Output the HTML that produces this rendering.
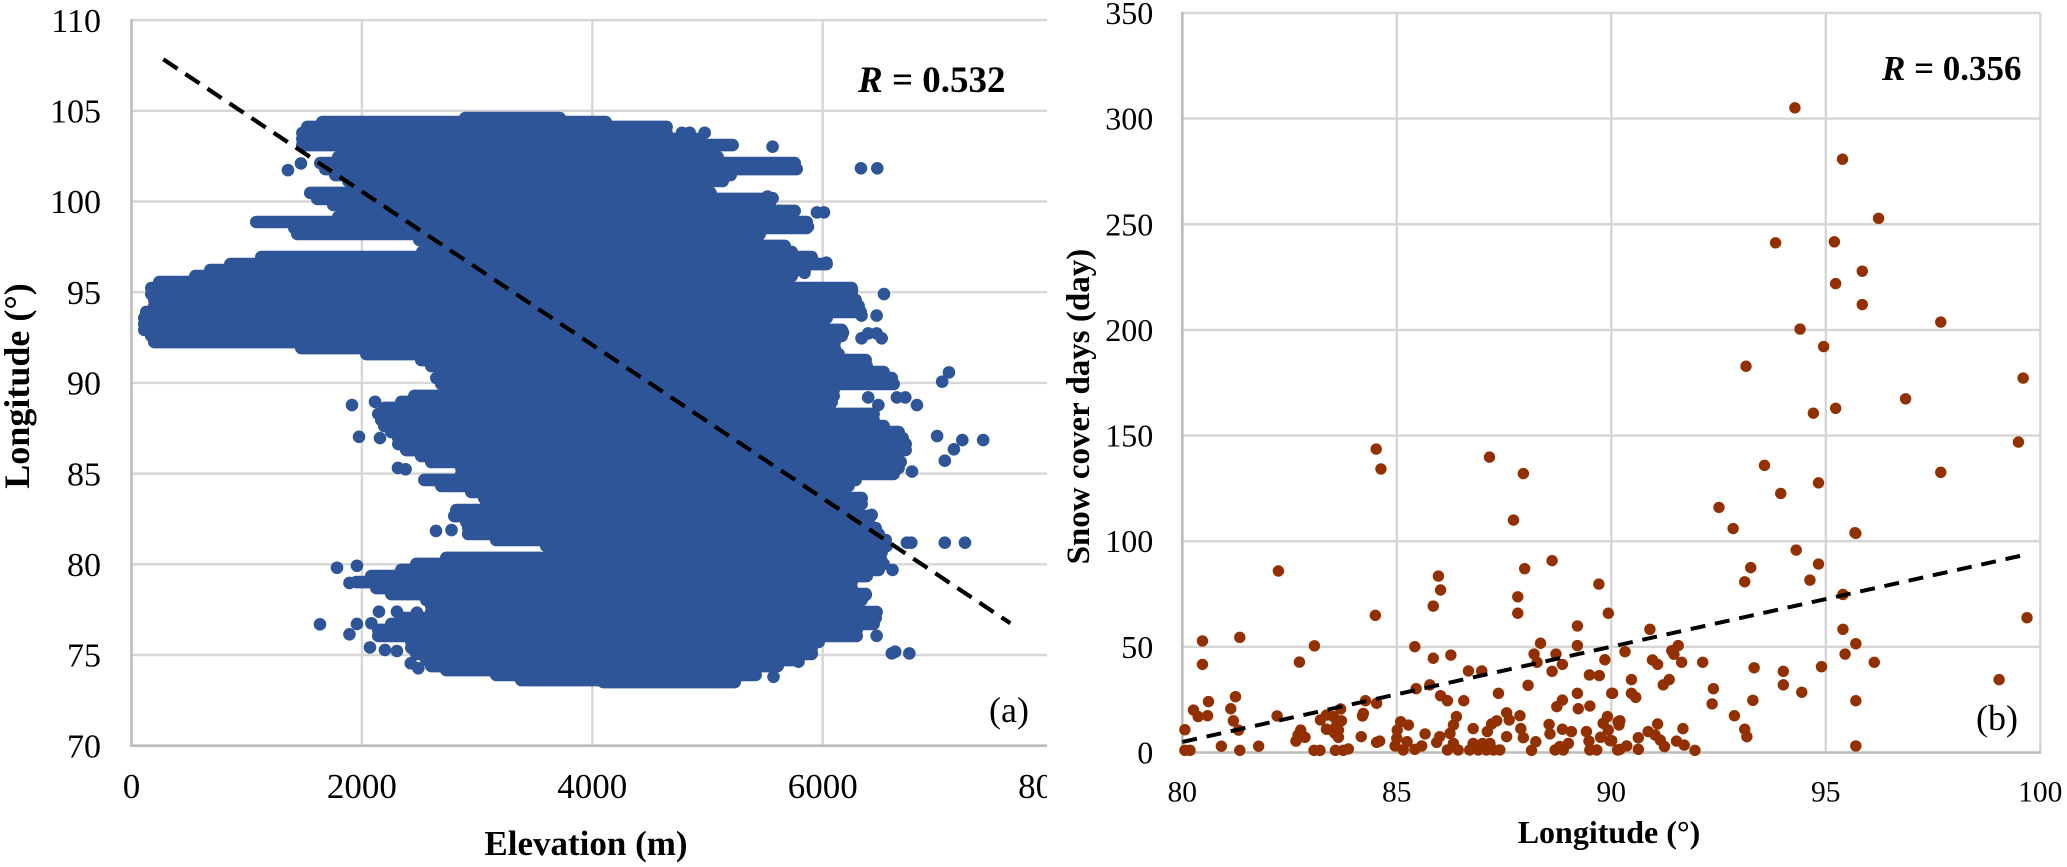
<!DOCTYPE html>
<html>
<head>
<meta charset="utf-8">
<title>Elevation and snow cover scatter charts</title>
<style>
html,body{margin:0;padding:0;background:#fff;}
svg{display:block;font-family:"Liberation Serif",serif;}
</style>
</head>
<body>
<svg id="figure" width="2067" height="867" viewBox="0 0 2067 867" xmlns="http://www.w3.org/2000/svg">
  <rect width="2067" height="867" fill="#ffffff"/>
  <defs><clipPath id="clipA"><rect x="0" y="0" width="1047" height="867"/></clipPath></defs>
  <g id="chartA" clip-path="url(#clipA)"></g>
  <g id="chartB"></g>
  <text x="586" y="855" text-anchor="middle" font-size="35" font-weight="bold">Elevation (m)</text>
  <text transform="translate(29,386) rotate(-90)" text-anchor="middle" font-size="36" font-weight="bold">Longitude (°)</text>
  <text x="858" y="92" font-size="37" font-weight="bold"><tspan font-style="italic">R</tspan> = 0.532</text>
  <text x="989" y="722" font-size="36">(a)</text>
  <text x="1609" y="843" text-anchor="middle" font-size="32" font-weight="bold">Longitude (°)</text>
  <text transform="translate(1089,406.6) rotate(-90)" text-anchor="middle" font-size="33" font-weight="bold">Snow cover days (day)</text>
  <text x="1882" y="80" font-size="35" font-weight="bold"><tspan font-style="italic">R</tspan> = 0.356</text>
  <text x="1976" y="730" font-size="36">(b)</text>
</svg>
<script>
// Panel (a): axis ticks
const aXTicks = [0, 2000, 4000, 6000, 8000];
const aYTicks = [70, 75, 80, 85, 90, 95, 100, 105, 110];

// Panel (a): dense mass of overlapping points, read as one run per longitude
const bandLon = [104.60,104.38,104.11,103.78,103.45,103.11,102.78,102.45,102.12,101.79,101.46,101.13,100.80,100.47,100.14,99.81,99.48,99.15,98.87,98.54,98.21,97.88,97.55,97.22,96.94,96.55,96.22,95.89,95.56,95.23,94.90,94.57,94.24,93.91,93.58,93.25,92.92,92.59,92.25,91.92,91.59,91.26,90.93,90.60,90.27,89.94,89.61,89.28,88.95,88.62,88.29,87.95,87.62,87.29,86.96,86.63,86.30,85.97,85.64,85.31,84.98,84.65,84.32,83.99,83.65,83.32,82.99,82.66,82.33,82.00,81.67,81.34,81.01,80.68,80.35,80.02,79.69,79.35,79.02,78.69,78.36,78.03,77.70,77.37,77.04,76.71,76.38,76.05,75.72,75.39,75.06,74.72,74.39,74.17,73.90,73.62,73.51];
const bandMin = [2897,1656,1526,1483,1483,1483,1925,1795,1639,1682,1769,1882,2012,1552,1613,1752,2055,1795,1083,1413,1439,2498,2567,2524,1127,858,684,554,241,172,172,198,198,128,111,111,111,172,198,1474,2038,2515,2602,2689,2646,2689,2732,2455,2342,2194,2142,2168,2194,2255,2316,2316,2385,2515,2602,2863,2863,2542,2689,2949,3062,3080,2819,2802,2906,2923,2923,3166,3600,3644,2732,2472,2342,2081,1951,2125,2255,2559,2602,2602,2342,2255,2142,2142,2429,2429,2472,2559,2602,2732,3166,3383,4095];
const bandMax = [3717,4116,4645,4645,4923,5218,5053,5088,5757,5774,5201,5132,4915,5027,5557,5540,5757,5609,5861,5861,5453,5435,5670,5731,5904,6034,5843,5731,5696,6251,6251,6286,6312,6330,6034,5991,6165,6165,6104,6104,6138,6373,6382,6529,6599,6616,6095,6095,6078,6060,6442,6442,6529,6659,6694,6720,6720,6512,6677,6659,6616,6286,6225,6182,6338,6338,6286,6416,6399,6460,6486,6547,6555,6512,6503,6529,6486,6382,6251,6251,6373,6338,6225,6468,6460,6442,6295,6295,5965,5904,5904,5783,5609,5418,5418,5236,5236];

// Panel (a): separately visible points
const outlierElev = [1358,1471,1494,1914,2114,1975,2157,2379,2313,2643,2778,1784,1957,1892,2148,2304,2478,1636,1957,2082,1892,2070,2200,2304,2424,2490,4778,4845,4976,5565,6332,6474,5521,5565,5950,6011,5755,5811,5872,6032,5842,6254,6532,6468,6337,6337,6395,6468,6512,6176,7096,7037,6395,6483,6644,6717,6818,6993,7212,7393,7139,7060,6775,6672,6425,6731,6769,7060,7235,6606,6373,6468,6629,6600,6752,5905,5790,5573];
const outlierLon = [101.73,102.10,103.30,88.78,88.96,87.03,86.96,85.24,85.31,81.84,81.89,79.81,79.92,78.97,77.39,77.39,77.33,76.69,76.71,76.75,76.14,75.42,75.28,75.22,74.54,74.27,103.79,103.79,103.79,103.02,101.83,101.83,100.27,100.18,99.40,99.40,98.61,98.61,98.61,96.63,96.07,95.12,94.90,93.71,93.71,92.46,92.73,92.73,92.46,92.77,90.58,90.07,89.20,88.78,89.20,89.20,88.78,87.07,86.85,86.85,86.34,85.71,85.11,85.66,82.72,81.19,81.19,81.19,81.19,79.69,78.31,76.06,75.18,75.09,75.09,75.09,74.63,73.80];

// Panel (a): trend line endpoints
const aTrendElev = [276, 7629];
const aTrendLon = [107.84, 76.75];

// Panel (b): axis ticks
const bXTicks = [80, 85, 90, 95, 100];
const bYTicks = [0, 50, 100, 150, 200, 250, 300, 350];

// Panel (b): stations
const snowLon = [82.24,84.50,80.47,81.34,83.08,80.47,82.73,81.24,80.61,80.26,80.37,80.59,81.13,81.19,81.31,80.06,82.21,80.91,81.78,81.34,80.06,80.18,82.65,82.76,82.70,82.86,83.07,83.21,83.57,83.75,83.87,84.17,84.53,84.60,84.27,84.53,84.22,84.20,83.69,83.36,83.22,83.52,83.71,83.60,83.36,83.48,83.64,83.56,83.64,
85.97,86.02,85.85,85.42,85.85,86.26,86.67,86.98,85.45,85.77,86.02,86.18,86.56,87.37,87.98,88.62,87.82,87.82,89.71,89.93,89.21,89.21,88.35,88.20,88.71,88.27,88.86,88.62,89.85,89.49,89.72,88.06,89.21,90.01,88.86,88.73,89.23,89.50,87.56,87.62,87.87,86.39,86.32,86.24,87.33,87.21,86.78,87.11,87.56,87.89,87.95,88.55,88.57,88.24,88.86,89.07,89.42,89.00,88.80,89.48,89.91,89.81,89.75,89.97,90.16,89.93,88.69,88.88,88.14,89.50,89.66,90.15,85.09,85.27,85.01,85.00,85.66,85.24,85.58,85.42,85.15,84.96,86.00,85.93,86.18,86.43,86.32,86.70,86.90,87.09,87.25,87.40,86.78,87.00,87.17,
94.31,93.25,93.11,94.83,94.63,92.84,90.90,91.56,91.41,91.46,90.32,90.96,91.08,91.64,92.13,93.33,94.01,94.90,90.47,91.35,91.21,94.01,92.38,94.44,90.03,90.47,90.57,92.35,93.30,92.87,90.20,90.18,91.08,91.67,93.11,93.16,90.86,91.02,91.14,91.24,90.63,90.36,90.63,90.20,90.01,91.52,91.70,91.95,
95.40,95.40,95.70,95.45,96.13,99.04,95.70,95.70,99.69,95.70,
94.28,95.39,96.23,93.83,95.20,95.85,95.23,95.85,97.68,94.40,94.95,93.14,99.60,96.86,95.23,94.71,99.49,84.52,84.63,87.16,87.95,93.57,94.83,93.95,97.68,87.72,92.51,95.68];
const snowDays = [85.9,64.9,52.8,54.5,50.5,41.7,42.8,26.4,24.1,20.1,17.0,17.4,20.7,15.0,10.6,10.8,17.3,3.0,3.0,1.0,1.0,1.0,5.4,10.6,8.3,7.2,1.0,1.0,1.0,1.0,1.7,7.5,4.8,5.4,24.5,23.3,18.5,17.3,20.6,17.7,15.4,17.0,15.0,13.0,11.0,10.6,10.6,9.0,7.2,
83.5,76.9,69.3,50.1,44.6,46.1,38.6,38.6,30.2,32.0,26.9,24.5,24.5,28.0,87.0,90.8,73.7,65.9,79.7,65.9,59.9,50.6,51.7,46.6,46.6,42.7,41.7,38.4,43.9,36.7,36.4,31.8,28.0,28.0,24.8,21.7,20.7,22.0,18.8,15.4,17.4,17.0,13.0,9.0,15.0,13.5,11.3,9.9,7.5,11.3,7.0,13.3,8.8,5.1,11.0,9.9,9.9,4.3,2.8,5.4,17.0,13.8,7.2,5.6,14.6,10.6,1.2,1.2,1.0,1.2,1.2,1.2,14.6,13.0,10.6,6.7,8.8,5.1,3.1,1.5,1.2,3.1,7.5,4.8,1.2,1.2,4.3,1.2,1.2,1.2,1.2,1.2,4.3,4.3,4.3,
95.8,87.5,80.8,89.2,81.6,106.0,58.3,50.6,48.2,46.5,47.7,43.8,41.7,42.7,42.7,40.1,38.4,40.6,34.5,34.5,32.0,32.0,30.2,28.5,28.0,28.0,26.1,23.0,24.7,17.4,15.0,13.0,13.5,11.3,11.0,7.5,9.9,8.3,5.9,2.8,7.0,3.1,1.5,1.5,5.6,5.4,3.5,1.0,
74.8,58.3,51.5,46.6,42.7,34.5,24.5,3.1,63.8,103.7,
305.1,280.8,252.8,241.2,241.7,227.8,221.9,212.0,203.7,200.4,192.1,182.8,177.2,167.4,162.9,160.6,146.9,143.6,134.2,139.8,132.0,135.9,127.6,122.6,132.6,110.0,116.0,104.0];

// Panel (b): trend line endpoints
const bTrendLon = [80, 99.74];
const bTrendDays = [5, 94];

const NS = 'http://www.w3.org/2000/svg';
function mk(tag, parent, attrs) {
  const el = document.createElementNS(NS, tag);
  for (const k in attrs) el.setAttribute(k, attrs[k]);
  parent.appendChild(el);
  return el;
}

// axis functions
const ax = v => 131.5 + v * 0.1152;
const ay = v => 745.7 - (v - 70) * 18.14;
const bx = v => 1182.3 + (v - 80) * 42.9;
const by = v => 752.5 - v * 2.113;

const GRID = '#d6d6d6', AXIS = '#bcbcbc';
const gA = document.getElementById('chartA');
const gB = document.getElementById('chartB');

// ---- Panel (a) ----
aXTicks.forEach(t => {
  if (t > 0) {
    const g = mk('line', gA, {x1: ax(t), x2: ax(t), y1: ay(110), y2: ay(70), stroke: GRID, 'stroke-width': 2.4});
    
    
  }
  const l = mk('text', gA, {x: ax(t), y: 798, 'text-anchor': 'middle', 'font-size': 35});
  l.textContent = String(t);
  
  
});
aYTicks.forEach(t => {
  if (t > 70) {
    const g = mk('line', gA, {x1: ax(0), x2: 1047, y1: ay(t), y2: ay(t), stroke: GRID, 'stroke-width': 2.4});
    
    
  }
  const l = mk('text', gA, {x: 101, y: ay(t) + 11.7, 'text-anchor': 'end', 'font-size': 34});
  l.textContent = String(t);
  
  
});
const aYAxis = mk('line', gA, {x1: ax(0), x2: ax(0), y1: ay(110) - 1, y2: ay(70) + 1.3, stroke: AXIS, 'stroke-width': 2.6});


const aXAxis = mk('line', gA, {x1: ax(0), x2: 1047, y1: ay(70), y2: ay(70), stroke: AXIS, 'stroke-width': 2.6});



const BLUE = '#2e5597', DOT_A = 6.3;
bandLon.forEach((lon, i) => {
  const b = mk('line', gA, {x1: ax(bandMin[i]), x2: ax(bandMax[i]), y1: ay(lon), y2: ay(lon), stroke: BLUE, 'stroke-width': DOT_A * 2, 'stroke-linecap': 'round'});
  
  
});
outlierElev.forEach((e, i) => {
  const c = mk('circle', gA, {cx: ax(e), cy: ay(outlierLon[i]), r: DOT_A, fill: BLUE});
  
  
});
const trendA = mk('line', gA, {x1: ax(aTrendElev[0]), y1: ay(aTrendLon[0]), x2: ax(aTrendElev[1]), y2: ay(aTrendLon[1]), stroke: '#000', 'stroke-width': 4.2, 'stroke-dasharray': '17 9.5'});



// ---- Panel (b) ----
bXTicks.forEach(t => {
  if (t > 80) {
    const g = mk('line', gB, {x1: bx(t), x2: bx(t), y1: by(350), y2: by(0), stroke: GRID, 'stroke-width': 2.4});
    
    
  }
  const l = mk('text', gB, {x: bx(t), y: 801.7, 'text-anchor': 'middle', 'font-size': 29.5});
  l.textContent = String(t);
  
  
});
bYTicks.forEach(t => {
  if (t > 0) {
    const g = mk('line', gB, {x1: bx(80), x2: bx(100), y1: by(t), y2: by(t), stroke: GRID, 'stroke-width': 2.4});
    
    
  }
  const l = mk('text', gB, {x: 1153.3, y: by(t) + 11, 'text-anchor': 'end', 'font-size': 32});
  l.textContent = String(t);
  
  
});
const bYAxis = mk('line', gB, {x1: bx(80), x2: bx(80), y1: by(350) - 1, y2: by(0) + 1.3, stroke: AXIS, 'stroke-width': 2.6});


const bXAxis = mk('line', gB, {x1: bx(80), x2: bx(100) + 1, y1: by(0), y2: by(0), stroke: AXIS, 'stroke-width': 2.6});



snowLon.forEach((lon, i) => {
  const c = mk('circle', gB, {cx: bx(lon), cy: by(snowDays[i]), r: 5.7, fill: '#933000'});
  
  
});
const trendB = mk('line', gB, {x1: bx(bTrendLon[0]), y1: by(bTrendDays[0]), x2: bx(bTrendLon[1]), y2: by(bTrendDays[1]), stroke: '#000', 'stroke-width': 4, 'stroke-dasharray': '15 9.8'});


</script>
</body>
</html>
